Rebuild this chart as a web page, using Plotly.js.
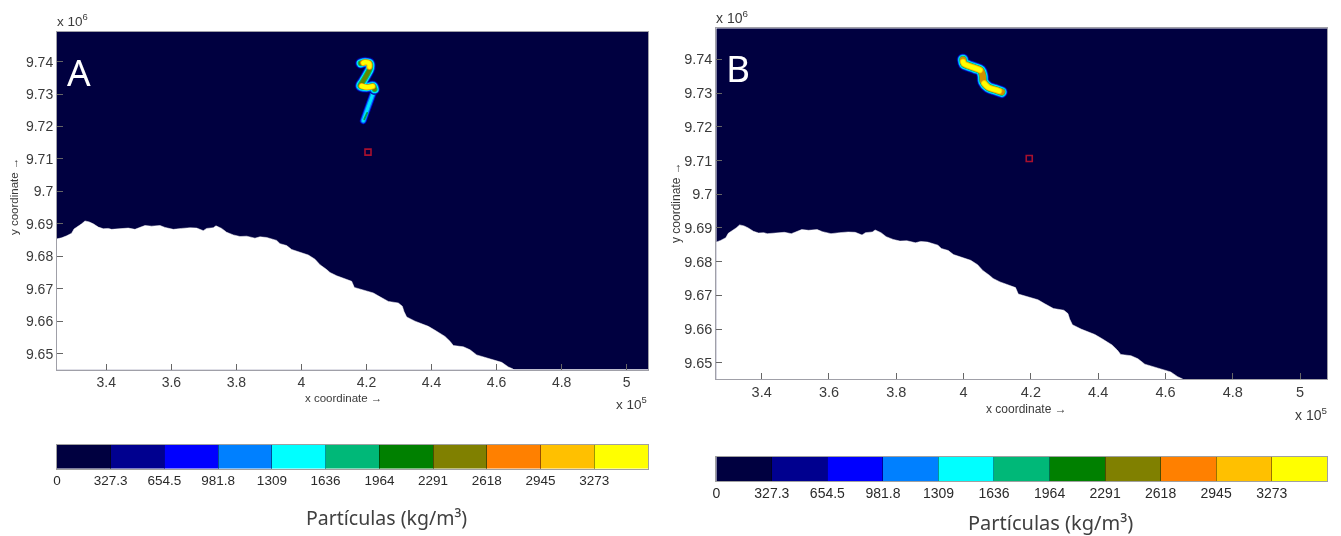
<!DOCTYPE html>
<html>
<head>
<meta charset="utf-8">
<script src="https://cdn.plot.ly/plotly-3.0.1.min.js"></script>
<style>html,body{margin:0;padding:0;background:#fff}#c{width:1341px;height:536px;filter:blur(0.55px)}
.scatterlayer .js-line{stroke-linecap:round;stroke-linejoin:round}</style>
</head>
<body>
<div id="c"></div>
<script>
// ---- data (x in units of 1e5, y in units of 1e6) ----
const coastX = [3.2493,3.2627,3.2780,3.2934,3.3006,3.3139,3.3242,3.3344,3.3477,3.3600,3.3754,3.3908,3.4061,3.4164,3.4420,3.4676,3.4881,3.5035,3.5189,3.5394,3.5650,3.5804,3.6060,3.6316,3.6572,3.6778,3.6982,3.7085,3.7290,3.7372,3.7546,3.7700,3.7905,3.8110,3.8315,3.8571,3.8725,3.8930,3.9237,3.9340,3.9545,3.9698,3.9955,4.0211,4.0416,4.0570,4.0775,4.0877,4.1082,4.1339,4.1544,4.1626,4.1851,4.2210,4.2415,4.2671,4.2979,4.3102,4.3153,4.3235,4.3491,4.3901,4.4106,4.4413,4.4567,4.4670,4.4977,4.5182,4.5387,4.5643,4.5899,4.6156,4.6361,4.6494,4.66];
const coastY = [9.6854,9.6857,9.6863,9.6871,9.6884,9.6892,9.6900,9.6909,9.6906,9.6900,9.6890,9.6885,9.6886,9.6883,9.6885,9.6887,9.6883,9.6890,9.6895,9.6893,9.6895,9.6889,9.6883,9.6886,9.6888,9.6887,9.6879,9.6886,9.6888,9.6894,9.6886,9.6874,9.6866,9.6861,9.6862,9.6856,9.6860,9.6858,9.6849,9.6839,9.6833,9.6821,9.6812,9.6804,9.6791,9.6774,9.6759,9.6750,9.6740,9.6731,9.6723,9.6704,9.6697,9.6687,9.6675,9.6661,9.6656,9.6646,9.6630,9.6613,9.6600,9.6584,9.6572,9.6553,9.6538,9.6525,9.6521,9.6512,9.6496,9.6488,9.6480,9.6473,9.6459,9.6453,9.6445];

const plumeAHeadX = [4.1820,4.1954,4.2100,4.2110,4.2006,4.1883,4.1810,4.2006,4.2200,4.2250];
const plumeAHeadY = [9.7395,9.7398,9.7395,9.7380,9.7359,9.7338,9.7325,9.7321,9.7325,9.7315];
const plumeATailX = [4.2250,4.2130,4.2000,4.1902];
const plumeATailY = [9.7315,9.7282,9.7246,9.7218];
const plumeALobe1X = [4.1900,4.1954,4.2080,4.2090];
const plumeALobe1Y = [9.7396,9.7398,9.7395,9.7384];
const plumeALobe2X = [4.1850,4.2006,4.2190];
const plumeALobe2Y = [9.7325,9.7321,9.7324];
const plumeATipX = [4.2020,4.1930];
const plumeATipY = [9.7242,9.7222];

const plumeBX = [3.9982,4.0012,4.0140,4.0339,4.0508,4.0568,4.0586,4.0734,4.0933,4.1132];
const plumeBY = [9.7399,9.7387,9.7381,9.7374,9.7367,9.7351,9.7334,9.7317,9.7310,9.7303];
const plumeBLobe1X = [3.9985,4.0012,4.0140,4.0339,4.0490];
const plumeBLobe1Y = [9.7393,9.7387,9.7381,9.7374,9.7368];
const plumeBLobe2X = [4.0610,4.0734,4.0933,4.1060];
const plumeBLobe2Y = [9.7329,9.7317,9.7310,9.7306];

const sampleAX = [4.2046], sampleAY = [9.7121];
const sampleBX = [4.1952], sampleBY = [9.7106];

const bandEdges = [0,327.3,654.5,981.8,1309,1636,1964,2291,2618,2945,3273,3600];
const bandLevels = [0,1,2,3,4,5,6,7,8,9,10];
const bandColors = ['#000040','#00008f','#0000ff','#0080ff','#00ffff','#00b878','#008000','#808000','#ff8000','#ffc000','#ffff00'];
const barTickVals = [0,327.3,654.5,981.8,1309,1636,1964,2291,2618,2945,3273];
const barTickText = ['0','327.3','654.5','981.8','1309','1636','1964','2291','2618','2945','3273'];
const mapXTicks = [3.4,3.6,3.8,4,4.2,4.4,4.6,4.8,5];
const mapXText = ['3.4','3.6','3.8','4','4.2','4.4','4.6','4.8','5'];
const mapYTicks = [9.65,9.66,9.67,9.68,9.69,9.7,9.71,9.72,9.73,9.74];
const mapYText = ['9.65','9.66','9.67','9.68','9.69','9.7','9.71','9.72','9.73','9.74'];

// ---- layout helpers ----
const W = 1341, H = 536;
const dx = (a,b) => [a/W, b/W];
const dy = (top,bot) => [1-bot/H, 1-top/H];
const px = a => a/W, py = a => 1-a/H;
const FONT = '"Liberation Sans", Arial, sans-serif';
const rangeAX = [3.2484,5.0655], rangeAY = [9.6451,9.7493];
const rangeBX = [3.2651,5.081], rangeBY = [9.6452,9.7492];

const scale = [];
bandColors.forEach((c,i) => { scale.push([i/11,c]); scale.push([(i+1)/11,c]); });

function sea(xa,ya,rx,ry){
  return {type:'heatmap',x:rx,y:ry,z:[[0]],zmin:0,zmax:11,colorscale:scale,showscale:false,xaxis:xa,yaxis:ya,hoverinfo:'skip'};
}
function coast(xa,ya){
  return {type:'scatter',mode:'lines',xaxis:xa,yaxis:ya,fill:'toself',fillcolor:'#ffffff',
    x:coastX.concat([4.70,3.2,3.2]),y:coastY.concat([9.64,9.64,9.6854]),
    line:{color:'#ffffff',width:0.5},hoverinfo:'skip'};
}
function band(xa,ya,x,y,color,width){
  return {type:'scatter',mode:'lines',xaxis:xa,yaxis:ya,x:x,y:y,
    line:{color:color,width:width,shape:'spline',smoothing:1},hoverinfo:'skip'};
}
function sample(xa,ya,x,y){
  return {type:'scatter',mode:'markers',xaxis:xa,yaxis:ya,x:x,y:y,
    marker:{symbol:'square-open',size:6,color:'#a8102e',line:{color:'#a8102e',width:1.6}},hoverinfo:'skip'};
}
function bar(xa,ya){
  return {type:'heatmap',x:bandEdges,y:[0,1],z:[bandLevels],zmin:0,zmax:11,
    colorscale:scale,showscale:false,xaxis:xa,yaxis:ya,hoverinfo:'skip'};
}

const traces = [
  sea('x','y',rangeAX,rangeAY), coast('x','y'),
  band('x','y',plumeATailX,plumeATailY,'#0000c0',7),
  band('x','y',plumeATailX,plumeATailY,'#0080ff',5.2),
  band('x','y',plumeATailX,plumeATailY,'#00e0ff',3),
  band('x','y',plumeAHeadX,plumeAHeadY,'#00008f',11),
  band('x','y',plumeAHeadX,plumeAHeadY,'#0060ff',9.2),
  band('x','y',plumeAHeadX,plumeAHeadY,'#00ffff',7.6),
  band('x','y',plumeAHeadX,plumeAHeadY,'#00b878',6),
  band('x','y',plumeAHeadX,plumeAHeadY,'#608800',4.2),
  band('x','y',plumeATipX,plumeATipY,'#00a050',1.8),
  band('x','y',plumeALobe1X,plumeALobe1Y,'#ff9000',6),
  band('x','y',plumeALobe2X,plumeALobe2Y,'#ff9000',6),
  band('x','y',plumeALobe1X,plumeALobe1Y,'#ffff00',4.4),
  band('x','y',plumeALobe2X,plumeALobe2Y,'#ffff00',4.6),
  sample('x','y',sampleAX,sampleAY),

  sea('x2','y2',rangeBX,rangeBY), coast('x2','y2'),
  band('x2','y2',plumeBX,plumeBY,'#00008f',12.5),
  band('x2','y2',plumeBX,plumeBY,'#0060ff',10.8),
  band('x2','y2',plumeBX,plumeBY,'#00ffff',9.2),
  band('x2','y2',plumeBX,plumeBY,'#00b878',7.8),
  band('x2','y2',plumeBX,plumeBY,'#d09000',6.4),
  band('x2','y2',plumeBLobe1X,plumeBLobe1Y,'#ffc000',6),
  band('x2','y2',plumeBLobe2X,plumeBLobe2Y,'#ffc000',6),
  band('x2','y2',plumeBLobe1X,plumeBLobe1Y,'#ffff00',4.4),
  band('x2','y2',plumeBLobe2X,plumeBLobe2Y,'#ffff00',4.4),
  sample('x2','y2',sampleBX,sampleBY),

  bar('x3','y3'), bar('x4','y4')
];

function mapX(dom,range,anchor,size){
  return {domain:dom,range:range,anchor:anchor,tickmode:'array',tickvals:mapXTicks,ticktext:mapXText,
    ticks:'inside',ticklen:6,tickcolor:'#666',tickwidth:1,showgrid:false,zeroline:false,
    showline:true,mirror:true,linecolor:'#a0a0a8',linewidth:1,tickfont:{family:FONT,size:size,color:'#3a3a3a'},ticklabelstandoff:0};
}
function mapY(dom,range,anchor,size){
  return {domain:dom,range:range,anchor:anchor,tickmode:'array',tickvals:mapYTicks,ticktext:mapYText,
    ticks:'inside',ticklen:6,tickcolor:'#666',tickwidth:1,showgrid:false,zeroline:false,
    showline:true,mirror:true,linecolor:'#a0a0a8',linewidth:1,tickfont:{family:FONT,size:size,color:'#3a3a3a'},ticklabelstandoff:0};
}
function barX(dom,anchor,size){
  return {domain:dom,range:[0,3600],anchor:anchor,tickmode:'array',tickvals:barTickVals,ticktext:barTickText,
    ticks:'inside',ticklen:24,tickcolor:'rgba(0,0,0,0.4)',tickwidth:1,showgrid:false,zeroline:false,
    showline:true,mirror:true,linecolor:'#a0a0a0',linewidth:1,tickfont:{family:FONT,size:size,color:'#2a2a2a'},ticklabelstandoff:-1};
}
function barY(dom,anchor){
  return {domain:dom,range:[0,1],anchor:anchor,showticklabels:false,ticks:'',showgrid:false,zeroline:false,
    showline:true,mirror:true,linecolor:'#a0a0a0',linewidth:1};
}
function note(text,x,y,size,opts){
  return Object.assign({xref:'paper',yref:'paper',x:px(x),y:py(y),text:text,showarrow:false,xanchor:'center',yanchor:'middle',
    font:{family:FONT,size:size,color:'#3a3a3a'}},opts||{});
}

const layout = {
  width:W,height:H,margin:{l:0,r:0,t:0,b:0,pad:0},paper_bgcolor:'#ffffff',plot_bgcolor:'#ffffff',showlegend:false,
  xaxis:mapX(dx(57,648),rangeAX,'y',14), yaxis:mapY(dy(31.5,369.5),rangeAY,'x',14),
  xaxis2:mapX(dx(716.3,1327.3),rangeBX,'y2',14.5), yaxis2:mapY(dy(28.3,379),rangeBY,'x2',14.5),
  xaxis3:barX(dx(57,648),'y3',13.5), yaxis3:barY(dy(445,468.5),'x3'),
  xaxis4:barX(dx(716.3,1327.3),'y4',14), yaxis4:barY(dy(456.5,481),'x4'),
  annotations:[
    note('A',79,71,37,{font:{family:'"Noto Sans"',size:37,color:'#ffffff'}}),
    note('B',738,67,37,{font:{family:'"Noto Sans"',size:37,color:'#ffffff'}}),
    note('x 10<sup>6</sup>',55,20,13.5,{xanchor:'left'}),
    note('x 10<sup>6</sup>',714,17,14,{xanchor:'left'}),
    note('x 10<sup>5</sup>',649,403,13.5,{xanchor:'right'}),
    note('x 10<sup>5</sup>',1329,414,14,{xanchor:'right'}),
    note('x coordinate →',343,398,11.5),
    note('x coordinate →',1026,409,12),
    note('y coordinate →',14,197,11.5,{textangle:-90}),
    note('y coordinate →',676,203,12,{textangle:-90}),
    note('Partículas (kg/m³)',386,517,19.5,{font:{family:'"Noto Sans"',size:19.5,color:'#404040'}}),
    note('Partículas (kg/m³)',1050,522,20,{font:{family:'"Noto Sans"',size:20,color:'#404040'}})
  ]
};
Plotly.newPlot('c',traces,layout,{displayModeBar:false,staticPlot:true});
</script>
</body>
</html>
